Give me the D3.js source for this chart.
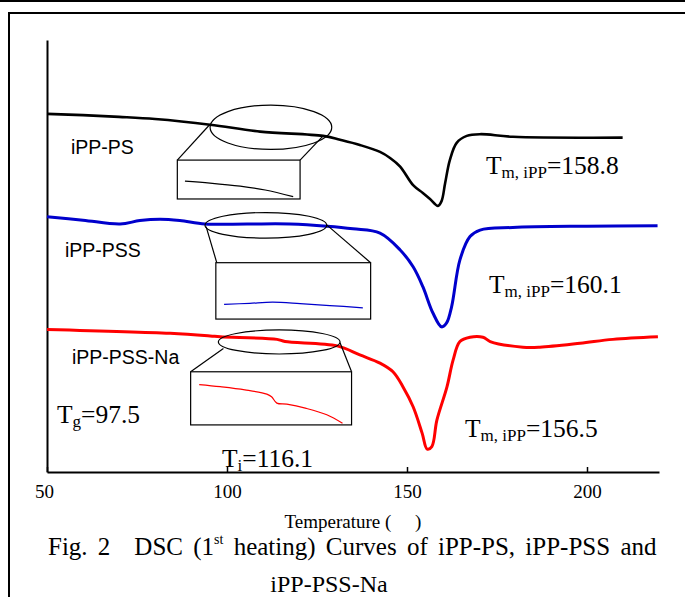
<!DOCTYPE html>
<html>
<head>
<meta charset="utf-8">
<script src="https://cdn.jsdelivr.net/npm/d3@7"></script>
<style>
  html, body { margin: 0; padding: 0; background: #fff; }
  svg { display: block; }
  .serif { font-family: "Liberation Serif", "Times New Roman", serif; }
  .sans { font-family: "Liberation Sans", Arial, sans-serif; }
</style>
</head>
<body>
<svg id="chart" width="685" height="597"></svg>
<script>
// x轴刻度
const tickValues = [50, 100, 150, 200];

// iPP-PS 曲线 (温度, 热流 a.u.)
const psT = [50, 60, 70, 80, 95.3, 109.2, 126.7, 131.4, 136.9, 142.5, 145.3, 148.1, 151.7, 154.4, 156.4, 158.6, 159.6, 160.6, 161.9, 163.8, 166.6, 170.3, 179.4, 209.9];
const psV = [82.9, 82.6, 82.2, 81.7, 80.4, 78.8, 77.8, 76.9, 75.7, 74.1, 72.7, 70.7, 66.4, 64.6, 63.2, 61.6, 62.7, 66.9, 72.2, 76.2, 77.8, 78.2, 77.6, 77.4];

// iPP-PSS 曲线
const pssT = [50, 60, 70.3, 75.8, 81.4, 86.9, 93.9, 105.6, 117.5, 127.8, 135, 142.5, 148.1, 151.7, 154.4, 157.2, 159.6, 161.0, 162.4, 164.7, 167.5, 170.3, 179.4, 200, 219.6];
const pssV = [59.1, 58.3, 57.4, 58.2, 58.5, 58.2, 57.4, 57.4, 57.4, 56.9, 56.3, 55.3, 51.4, 47.5, 42.9, 36.8, 33.6, 34.5, 38.3, 49.1, 54.5, 56.0, 56.6, 56.9, 57.0];

// iPP-PSS-Na 曲线
const nasT = [50, 84.2, 95.3, 98.1, 113.9, 116.1, 130.6, 136.9, 142.5, 146.1, 148.9, 151.7, 154.2, 155.6, 156.9, 158.3, 161.1, 162.8, 164.7, 167.5, 171.1, 173.1, 182.2, 186.9, 198.1, 207.2, 219.7];
const nasV = [33.0, 32.1, 31.5, 31.3, 30.7, 30.2, 29.2, 27.1, 25.2, 23.2, 19.7, 15.1, 9.0, 5.3, 5.9, 12.0, 19.7, 25.9, 30.2, 31.2, 31.2, 30.2, 28.9, 28.9, 29.8, 30.7, 31.3];

// 放大框里的局部曲线
const psDetailT = [97.4, 104.3, 112.6, 119.5, 127.2];
const psDetailV = [78.8, 78.55, 78.15, 77.65, 76.8];
const pssDetailT = [95.7, 101.3, 106.3, 112.3, 118.8, 126.0];
const pssDetailV = [54.6, 54.8, 55.0, 54.75, 54.4, 54.0];
const nasDetailT = [99.4, 103.8, 109.0, 113.6, 114.6, 115.7, 117.8, 121.9, 126.2, 129.5];
const nasDetailV = [31.6, 31.2, 30.6, 29.8, 29.3, 28.1, 27.9, 27.1, 25.9, 24.3];

const svg = d3.select('#chart');
const x = d3.scaleLinear().domain([50, 220]).range([47, 659]);
const y = d3.scaleLinear().domain([0, 100]).range([472, 40]);

// 外框
svg.append('line').attr('x1', 0).attr('x2', 685).attr('y1', 1).attr('y2', 1)
  .attr('stroke', '#000').attr('stroke-width', 2);
svg.append('path').attr('d', 'M9,597V13H685')
  .attr('fill', 'none').attr('stroke', '#000').attr('stroke-width', 2);

// 坐标轴
const xAxis = svg.append('g')
  .attr('transform', `translate(0,${y(0)})`)
  .call(d3.axisBottom(x).tickValues(tickValues).tickSizeInner(-5).tickSizeOuter(0).tickPadding(13));
xAxis.select('.domain').attr('stroke-width', 2);
xAxis.selectAll('.tick line').attr('stroke-width', 1.5);
xAxis.selectAll('text').attr('class', 'serif').attr('font-size', 19).attr('fill', '#000');
xAxis.select('.tick text').attr('dx', -3);

const yAxis = svg.append('g')
  .attr('transform', `translate(${x(50)},0)`)
  .call(d3.axisLeft(y).tickValues([]).tickSizeOuter(0));
yAxis.select('.domain').attr('stroke-width', 2);

// 曲线
const line = d3.line().curve(d3.curveCatmullRom.alpha(0.5));
const series = [
  { t: psT, v: psV, color: '#000', w: 2.6 },
  { t: pssT, v: pssV, color: '#0000cc', w: 3 },
  { t: nasT, v: nasV, color: '#ff0000', w: 3 }
];
series.forEach(s => {
  svg.append('path')
    .attr('d', line(s.t.map((t, i) => [x(t), y(s.v[i])])))
    .attr('fill', 'none')
    .attr('stroke', s.color)
    .attr('stroke-width', s.w)
    .attr('stroke-linejoin', 'round');
});

// 放大示意 (椭圆 + 方框 + 连线)
const insets = [
  { ell: [112.2, 79.8, 16.9, 5.14], box: [86.2, 120.3, 72.2, 63.2],
    links: [[95.3, 80.5, 86.2, 72.2], [126.7, 77.8, 120.3, 72.2]],
    zoomV: [76.5, 81.5], dt: psDetailT, dv: psDetailV, color: '#000' },
  { ell: [110.8, 57.1, 16.9, 2.96], box: [96.9, 139.9, 48.45, 35.4],
    links: [[94.2, 56.8, 97.6, 47.2], [127.7, 57.2, 139.9, 48.45]],
    zoomV: [52, 62], dt: pssDetailT, dv: pssDetailV, color: '#0000cc' },
  { ell: [114.5, 30.1, 16.9, 2.78], box: [89.9, 134.6, 23.2, 10.9],
    links: [[99.0, 28.6, 89.9, 23.2], [131.4, 29.9, 134.6, 23.2]],
    zoomV: [24, 34], dt: nasDetailT, dv: nasDetailV, color: '#ff0000' }
];

insets.forEach(d => {
  const [ct, cv, rt, rv] = d.ell;
  const g = svg.append('g').attr('fill', 'none').attr('stroke', '#000').attr('stroke-width', 1.2);
  g.append('ellipse')
    .attr('cx', x(ct)).attr('cy', y(cv))
    .attr('rx', x(ct + rt) - x(ct)).attr('ry', y(cv - rv) - y(cv));
  d.links.forEach(l => {
    g.append('line')
      .attr('x1', x(l[0])).attr('y1', y(l[1]))
      .attr('x2', x(l[2])).attr('y2', y(l[3]));
  });
  const [t0, t1, vTop, vBot] = d.box;
  g.append('rect')
    .attr('x', x(t0)).attr('y', y(vTop))
    .attr('width', x(t1) - x(t0)).attr('height', y(vBot) - y(vTop))
    .attr('fill', '#fff');

  // 框内放大的局部曲线
  const ix = d3.scaleLinear().domain([ct - rt, ct + rt]).range([x(t0), x(t1)]);
  const iy = d3.scaleLinear().domain(d.zoomV).range([y(vBot), y(vTop)]);
  svg.append('path')
    .attr('d', d3.line().curve(d3.curveCatmullRom)(d.dt.map((t, i) => [ix(t), iy(d.dv[i])])))
    .attr('fill', 'none').attr('stroke', d.color).attr('stroke-width', 1.2);
});

// 样品名
const names = [['iPP-PS', 71, 154], ['iPP-PSS', 65, 257], ['iPP-PSS-Na', 72, 364]];
names.forEach(n => {
  svg.append('text').attr('class', 'sans').attr('font-size', 19.5)
    .attr('x', n[1]).attr('y', n[2]).text(n[0]);
});

// 温度标注
function label(px, py, sub, val) {
  const t = svg.append('text').attr('class', 'serif').attr('x', px).attr('y', py).attr('font-size', 25.5);
  t.append('tspan').text('T');
  t.append('tspan').attr('font-size', 17).attr('dy', 4).text(sub);
  t.append('tspan').attr('dy', -4).text('=' + val);
}
label(486, 174, 'm, iPP', '158.8');
label(489, 293, 'm, iPP', '160.1');
label(465, 437, 'm, iPP', '156.5');
label(57, 423, 'g', '97.5');
label(222, 467, 'i', '116.1');

// 坐标轴标题与图题
svg.append('text').attr('class', 'serif').attr('font-size', 19)
  .attr('x', 353).attr('y', 528).attr('text-anchor', 'middle')
  .style('white-space', 'pre').text('Temperature (     )');

const cap = svg.append('text').attr('class', 'serif').attr('font-size', 25)
  .attr('x', 48).attr('y', 555).attr('word-spacing', 4);
cap.append('tspan').text('Fig. 2');
cap.append('tspan').attr('dx', 24).text('DSC (1');
cap.append('tspan').attr('font-size', 14).attr('dy', -11).text('st');
cap.append('tspan').attr('dy', 11).text(' heating) Curves of iPP-PS, iPP-PSS and');

svg.append('text').attr('class', 'serif').attr('font-size', 24)
  .attr('x', 329).attr('y', 592).attr('text-anchor', 'middle').text('iPP-PSS-Na');
</script>
</body>
</html>
